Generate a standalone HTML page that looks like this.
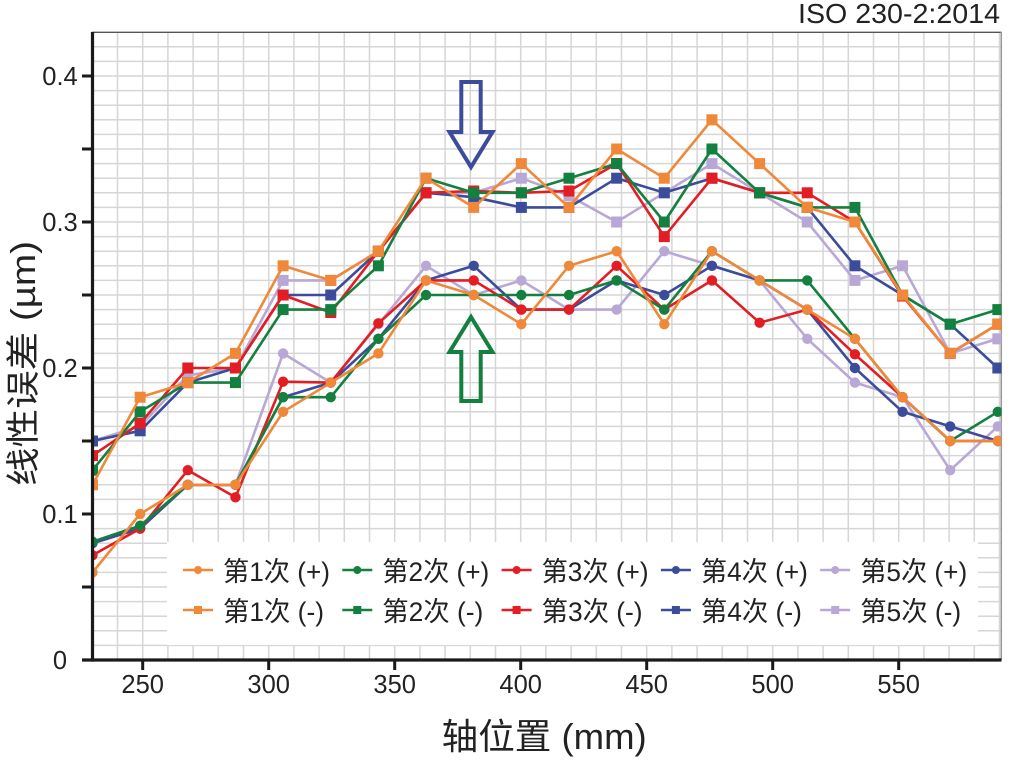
<!DOCTYPE html>
<html>
<head>
<meta charset="utf-8">
<style>
  html, body { margin: 0; padding: 0; background: #ffffff; }
  svg { display: block; }
  text { font-family: "Liberation Sans", "Noto Sans CJK SC", sans-serif; fill: #222; }
</style>
</head>
<body>
<svg width="1016" height="772" viewBox="0 0 1016 772" xmlns="http://www.w3.org/2000/svg">
  <defs>
    <clipPath id="plot"><rect x="92.5" y="32" width="909" height="628"/></clipPath>
    <marker id="c1" markerUnits="userSpaceOnUse" markerWidth="14" markerHeight="14" refX="7" refY="7" overflow="visible"><circle cx="7" cy="7" r="5.2" fill="#f0883a"/></marker>
    <marker id="c2" markerUnits="userSpaceOnUse" markerWidth="14" markerHeight="14" refX="7" refY="7" overflow="visible"><circle cx="7" cy="7" r="5.2" fill="#13803f"/></marker>
    <marker id="c3" markerUnits="userSpaceOnUse" markerWidth="14" markerHeight="14" refX="7" refY="7" overflow="visible"><circle cx="7" cy="7" r="5.2" fill="#e31d24"/></marker>
    <marker id="c4" markerUnits="userSpaceOnUse" markerWidth="14" markerHeight="14" refX="7" refY="7" overflow="visible"><circle cx="7" cy="7" r="5.2" fill="#3b4c9b"/></marker>
    <marker id="c5" markerUnits="userSpaceOnUse" markerWidth="14" markerHeight="14" refX="7" refY="7" overflow="visible"><circle cx="7" cy="7" r="5.2" fill="#b9a7d6"/></marker>
    <marker id="s1" markerUnits="userSpaceOnUse" markerWidth="14" markerHeight="14" refX="7" refY="7" overflow="visible"><rect x="1.5" y="1.5" width="11" height="11" fill="#f0883a"/></marker>
    <marker id="s2" markerUnits="userSpaceOnUse" markerWidth="14" markerHeight="14" refX="7" refY="7" overflow="visible"><rect x="1.5" y="1.5" width="11" height="11" fill="#13803f"/></marker>
    <marker id="s3" markerUnits="userSpaceOnUse" markerWidth="14" markerHeight="14" refX="7" refY="7" overflow="visible"><rect x="1.5" y="1.5" width="11" height="11" fill="#e31d24"/></marker>
    <marker id="s4" markerUnits="userSpaceOnUse" markerWidth="14" markerHeight="14" refX="7" refY="7" overflow="visible"><rect x="1.5" y="1.5" width="11" height="11" fill="#3b4c9b"/></marker>
    <marker id="s5" markerUnits="userSpaceOnUse" markerWidth="14" markerHeight="14" refX="7" refY="7" overflow="visible"><rect x="1.5" y="1.5" width="11" height="11" fill="#b9a7d6"/></marker>
  </defs>

  <!-- Grid -->
  <path fill="none" stroke="#d6d6d6" stroke-width="1.5" d="
    M92 645.4H1001M92 630.8H1001M92 616.2H1001M92 601.6H1001M92 587H1001M92 572.4H1001M92 557.8H1001M92 543.2H1001M92 528.6H1001M92 514H1001
    M92 499.4H1001M92 484.8H1001M92 470.2H1001M92 455.6H1001M92 441H1001M92 426.4H1001M92 411.8H1001M92 397.2H1001M92 382.6H1001M92 368H1001
    M92 353.4H1001M92 338.8H1001M92 324.2H1001M92 309.6H1001M92 295H1001M92 280.4H1001M92 265.8H1001M92 251.2H1001M92 236.6H1001M92 222H1001
    M92 207.4H1001M92 192.8H1001M92 178.2H1001M92 163.6H1001M92 149H1001M92 134.4H1001M92 119.8H1001M92 105.2H1001M92 90.6H1001M92 76H1001
    M92 61.4H1001M92 46.8H1001
    M117.5 32V660M142.7 32V660M167.9 32V660M193.1 32V660M218.3 32V660M243.5 32V660M268.7 32V660M293.9 32V660M319.1 32V660M344.3 32V660
    M369.5 32V660M394.7 32V660M419.9 32V660M445.1 32V660M470.3 32V660M495.5 32V660M520.7 32V660M545.9 32V660M571.1 32V660M596.3 32V660
    M621.5 32V660M646.7 32V660M671.9 32V660M697.1 32V660M722.3 32V660M747.5 32V660M772.7 32V660M797.9 32V660M823.1 32V660M848.3 32V660
    M873.5 32V660M898.7 32V660M923.9 32V660M949.1 32V660M974.3 32V660M999.5 32V660"/>

  <!-- Top & right border -->
  <line x1="92" y1="32.3" x2="1001.5" y2="32.3" stroke="#555" stroke-width="1.4"/>
  <line x1="1001.3" y1="32" x2="1001.3" y2="660" stroke="#999" stroke-width="1.5"/>

  <!-- Series -->
  <g clip-path="url(#plot)" fill="none" stroke-width="2.6" stroke-linejoin="round">
    <polyline stroke="#b9a7d6" marker-start="url(#s5)" marker-mid="url(#s5)" marker-end="url(#s5)" points="92.5,441 140.15,426.4 187.8,375.3 235.45,368 283.1,280.4 330.75,280.4 378.4,251.2 426.05,192.8 473.7,192.8 521.35,178.2 569,195.7 616.65,222 664.3,192.8 711.95,163.6 759.6,192.8 807.25,222 854.9,280.4 902.55,265.8 950.2,353.4 997.85,338.8"/>
    <polyline stroke="#3b4c9b" marker-start="url(#s4)" marker-mid="url(#s4)" marker-end="url(#s4)" points="92.5,441 140.15,430.8 187.8,382.6 235.45,368 283.1,295 330.75,295 378.4,251.2 426.05,192.8 473.7,197.2 521.35,207.4 569,207.4 616.65,178.2 664.3,192.8 711.95,178.2 759.6,192.8 807.25,207.4 854.9,265.8 902.55,295 950.2,324.2 997.85,368"/>
    <polyline stroke="#e31d24" marker-start="url(#s3)" marker-mid="url(#s3)" marker-end="url(#s3)" points="92.5,455.6 140.15,423.3 187.8,368 235.45,368 283.1,295 330.75,312.5 378.4,251.2 426.05,192.8 473.7,191 521.35,192.8 569,191 616.65,163.6 664.3,236.6 711.95,178.2 759.6,192.8 807.25,192.8 854.9,222 902.55,296 950.2,353.4 997.85,324.2"/>
    <polyline stroke="#13803f" marker-start="url(#s2)" marker-mid="url(#s2)" marker-end="url(#s2)" points="92.5,470.2 140.15,411.8 187.8,382.6 235.45,382.6 283.1,309.6 330.75,309.6 378.4,265.8 426.05,178.2 473.7,192.8 521.35,192.8 569,178.2 616.65,163.6 664.3,222 711.95,149 759.6,192.8 807.25,207.4 854.9,207.4 902.55,295 950.2,324.2 997.85,309.6"/>
    <polyline stroke="#f0883a" marker-start="url(#s1)" marker-mid="url(#s1)" marker-end="url(#s1)" points="92.5,484.8 140.15,397.2 187.8,382.6 235.45,353.4 283.1,265.8 330.75,280.4 378.4,251.2 426.05,178.2 473.7,207.4 521.35,163.6 569,207.4 616.65,149 664.3,178.2 711.95,119.8 759.6,163.6 807.25,207.4 854.9,222 902.55,295 950.2,353.4 997.85,324.2"/>

    <polyline stroke="#b9a7d6" marker-start="url(#c5)" marker-mid="url(#c5)" marker-end="url(#c5)" points="92.5,543.2 140.15,528.6 187.8,484.8 235.45,484.8 283.1,353.4 330.75,382.6 378.4,324.2 426.05,265.8 473.7,295 521.35,280.4 569,309.6 616.65,309.6 664.3,251.2 711.95,265.8 759.6,280.4 807.25,338.8 854.9,382.6 902.55,397.2 950.2,470.2 997.85,426.4"/>
    <polyline stroke="#3b4c9b" marker-start="url(#c4)" marker-mid="url(#c4)" marker-end="url(#c4)" points="92.5,543.2 140.15,528.6 187.8,484.8 235.45,484.8 283.1,397.2 330.75,382.6 378.4,338.8 426.05,280.4 473.7,265.8 521.35,309.6 569,309.6 616.65,280.4 664.3,295 711.95,265.8 759.6,280.4 807.25,309.6 854.9,368 902.55,411.8 950.2,426.4 997.85,441"/>
    <polyline stroke="#e31d24" marker-start="url(#c3)" marker-mid="url(#c3)" marker-end="url(#c3)" points="92.5,555.3 140.15,528.6 187.8,470.2 235.45,497.3 283.1,381.7 330.75,382.6 378.4,323.3 426.05,280.4 473.7,280.4 521.35,309.6 569,309.6 616.65,265.8 664.3,309.6 711.95,280.4 759.6,322.7 807.25,309.6 854.9,354.3 902.55,397.2 950.2,441 997.85,441"/>
    <polyline stroke="#13803f" marker-start="url(#c2)" marker-mid="url(#c2)" marker-end="url(#c2)" points="92.5,541.7 140.15,525.7 187.8,484.8 235.45,484.8 283.1,397.2 330.75,397.2 378.4,338.8 426.05,295 473.7,295 521.35,295 569,295 616.65,280.4 664.3,309.6 711.95,251.2 759.6,280.4 807.25,280.4 854.9,338.8 902.55,397.2 950.2,441 997.85,411.8"/>
    <polyline stroke="#f0883a" marker-start="url(#c1)" marker-mid="url(#c1)" marker-end="url(#c1)" points="92.5,572.4 140.15,514 187.8,484.8 235.45,484.8 283.1,411.8 330.75,382.6 378.4,353.4 426.05,280.4 473.7,295 521.35,324.2 569,265.8 616.65,251.2 664.3,324.2 711.95,251.2 759.6,280.4 807.25,309.6 854.9,338.8 902.55,397.2 950.2,441 997.85,441"/>
  </g>

  <!-- Arrows -->
  <polygon points="461.3,82 480.7,82 480.7,132 492.5,132 471,167 449.5,132 461.3,132" fill="none" stroke="#3b4c9b" stroke-width="4" stroke-linejoin="miter"/>
  <polygon points="471,317 492.5,352 480.7,352 480.7,401 461.3,401 461.3,352 449.5,352" fill="none" stroke="#13803f" stroke-width="4" stroke-linejoin="miter"/>

  <!-- Legend -->
  <rect x="167" y="542" width="811" height="103" fill="#ffffff"/>
  <g stroke-width="2.6">
    <line x1="183" y1="570" x2="213" y2="570" stroke="#f0883a"/>
    <line x1="183" y1="610" x2="213" y2="610" stroke="#f0883a"/>
    <line x1="342.3" y1="570" x2="372.3" y2="570" stroke="#13803f"/>
    <line x1="342.3" y1="610" x2="372.3" y2="610" stroke="#13803f"/>
    <line x1="501.6" y1="570" x2="531.6" y2="570" stroke="#e31d24"/>
    <line x1="501.6" y1="610" x2="531.6" y2="610" stroke="#e31d24"/>
    <line x1="660.9" y1="570" x2="690.9" y2="570" stroke="#3b4c9b"/>
    <line x1="660.9" y1="610" x2="690.9" y2="610" stroke="#3b4c9b"/>
    <line x1="820.2" y1="570" x2="850.2" y2="570" stroke="#b9a7d6"/>
    <line x1="820.2" y1="610" x2="850.2" y2="610" stroke="#b9a7d6"/>
  </g>
  <circle cx="198" cy="570" r="4" fill="#f0883a"/>
  <rect x="194" y="606" width="8" height="8" fill="#f0883a"/>
  <circle cx="357.3" cy="570" r="4" fill="#13803f"/>
  <rect x="353.3" y="606" width="8" height="8" fill="#13803f"/>
  <circle cx="516.6" cy="570" r="4" fill="#e31d24"/>
  <rect x="512.6" y="606" width="8" height="8" fill="#e31d24"/>
  <circle cx="675.9" cy="570" r="4" fill="#3b4c9b"/>
  <rect x="671.9" y="606" width="8" height="8" fill="#3b4c9b"/>
  <circle cx="835.2" cy="570" r="4" fill="#b9a7d6"/>
  <rect x="831.2" y="606" width="8" height="8" fill="#b9a7d6"/>
  <g font-size="27">
    <text x="223" y="581" textLength="107" lengthAdjust="spacingAndGlyphs">第1次 (+)</text>
    <text x="223" y="621" textLength="101" lengthAdjust="spacingAndGlyphs">第1次 (-)</text>
    <text x="382.3" y="581" textLength="107" lengthAdjust="spacingAndGlyphs">第2次 (+)</text>
    <text x="382.3" y="621" textLength="101" lengthAdjust="spacingAndGlyphs">第2次 (-)</text>
    <text x="541.6" y="581" textLength="107" lengthAdjust="spacingAndGlyphs">第3次 (+)</text>
    <text x="541.6" y="621" textLength="101" lengthAdjust="spacingAndGlyphs">第3次 (-)</text>
    <text x="700.9" y="581" textLength="107" lengthAdjust="spacingAndGlyphs">第4次 (+)</text>
    <text x="700.9" y="621" textLength="101" lengthAdjust="spacingAndGlyphs">第4次 (-)</text>
    <text x="860.2" y="581" textLength="107" lengthAdjust="spacingAndGlyphs">第5次 (+)</text>
    <text x="860.2" y="621" textLength="101" lengthAdjust="spacingAndGlyphs">第5次 (-)</text>
  </g>

  <!-- Axes -->
  <line x1="92.5" y1="32" x2="92.5" y2="661.6" stroke="#1a1a1a" stroke-width="3.2"/>
  <line x1="82" y1="660" x2="1001.5" y2="660" stroke="#1a1a1a" stroke-width="3.2"/>
  <path stroke="#1a1a1a" stroke-width="3" d="M82 76H92M82 149H92M82 222H92M82 295H92M82 368H92M82 441H92M82 514H92M82 587H92
    M142.7 660V670M268.7 660V670M394.7 660V670M520.7 660V670M646.7 660V670M772.7 660V670M898.7 660V670"/>

  <!-- Tick labels -->
  <g font-size="25.5" text-anchor="middle">
    <text x="60" y="85">0.4</text>
    <text x="60" y="231">0.3</text>
    <text x="60" y="377">0.2</text>
    <text x="60" y="523">0.1</text>
    <text x="60" y="669">0</text>
    <text x="142.7" y="693">250</text>
    <text x="268.7" y="693">300</text>
    <text x="394.7" y="693">350</text>
    <text x="520.7" y="693">400</text>
    <text x="646.7" y="693">450</text>
    <text x="772.7" y="693">500</text>
    <text x="898.7" y="693">550</text>
  </g>

  <!-- Titles -->
  <text x="1000" y="23" font-size="28" text-anchor="end" textLength="202" lengthAdjust="spacingAndGlyphs">ISO 230-2:2014</text>
  <text x="544.2" y="749" font-size="36" text-anchor="middle" textLength="205" lengthAdjust="spacingAndGlyphs">轴位置 (mm)</text>
  <text transform="translate(35,363.5) rotate(-90)" font-size="34" text-anchor="middle" textLength="245" lengthAdjust="spacingAndGlyphs">线性误差 (µm)</text>
</svg>
</body>
</html>
